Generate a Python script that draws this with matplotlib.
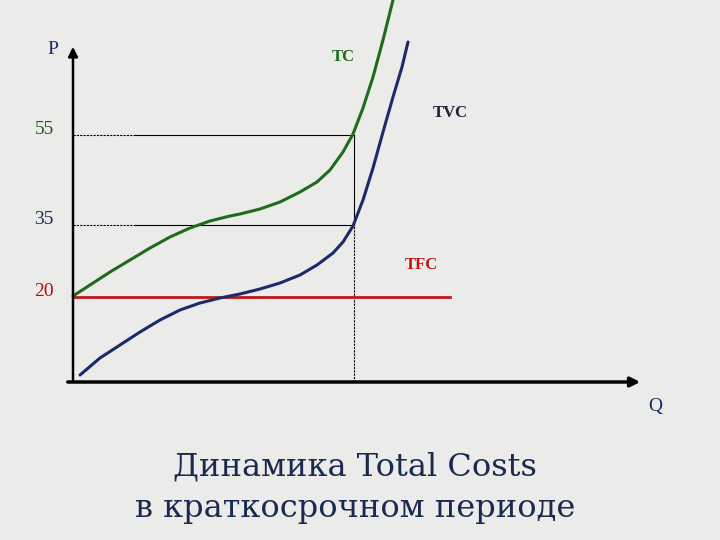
import matplotlib
matplotlib.use('Agg')
import matplotlib.pyplot as plt

# Schematic cost curves, Q = output, P = cost (chart units above the Q axis)
tc_q = [0, 17, 37, 57, 77, 97, 117, 137, 157, 167, 187, 207, 227, 244, 257, 270, 280, 290, 300, 310, 320]
tc_p = [86, 97, 110, 122, 134, 145, 154, 161, 166, 168, 173, 180, 190, 200, 212, 230, 248, 274, 305, 342, 382]

tvc_q = [7, 27, 47, 67, 87, 107, 127, 147, 167, 187, 207, 227, 244, 260, 270, 280, 290, 300, 310, 320, 329, 335]
tvc_p = [7, 24, 37, 50, 62, 72, 79, 84, 88, 93, 99, 107, 117, 129, 140, 156, 182, 214, 250, 285, 315, 340]

tfc_q = [0, 377]
tfc_p = [85, 85]

tick_levels = [85, 157, 247]
tick_labels = ['20', '35', '55']
tick_colors = ['#b01010', '#1c2a5c', '#1d5e1d']
q_mark = 281

bg = '#ebebea'
navy = '#1c2a6a'
green = '#1e6b1e'
red = '#c01818'

fig = plt.figure(figsize=(7.2, 5.4), dpi=100, facecolor=bg)
ax = fig.add_axes([0, 0, 1, 1])
ax.set_facecolor(bg)
ax.set_xlim(-73, 647)
ax.set_ylim(-158, 382)
ax.axis('off')

# axes with arrows
ax.annotate('', xy=(570, 0), xytext=(-8, 0),
            arrowprops=dict(arrowstyle='-|>', color='black', lw=2.5, mutation_scale=14))
ax.annotate('', xy=(0, 338), xytext=(0, -2),
            arrowprops=dict(arrowstyle='-|>', color='black', lw=1.8, mutation_scale=14))
ax.text(-20, 333, 'P', fontsize=14, color=navy, family='Liberation Serif', ha='center', va='center')
ax.text(582, -24, 'Q', fontsize=14, color=navy, family='Liberation Serif', ha='center', va='center')

# guide lines to the curves
for lvl in tick_levels[1:]:
    ax.plot([0, 62], [lvl, lvl], color='black', lw=0.8, ls=(0, (2, 1)))
    ax.plot([62, q_mark], [lvl, lvl], color='black', lw=0.8)
ax.plot([q_mark, q_mark], [157, 247], color='black', lw=0.8)
ax.plot([q_mark, q_mark], [0, 157], color='black', lw=0.8, ls=(0, (2, 1)))

for lvl, lab, col in zip(tick_levels, tick_labels, tick_colors):
    ax.text(-29, lvl + 5, lab, fontsize=14, color=col, family='Liberation Serif',
            ha='center', va='center')

# cost curves
ax.plot(tfc_q, tfc_p, color=red, lw=2)
ax.plot(tvc_q, tvc_p, color=navy, lw=2.2, solid_capstyle='round', solid_joinstyle='round')
ax.plot(tc_q, tc_p, color=green, lw=2.2, solid_capstyle='round', solid_joinstyle='round')

ax.text(270, 325, 'TC', fontsize=12, color=green, family='Liberation Serif', weight='bold', ha='center', va='center')
ax.text(377, 269, 'TVC', fontsize=12, color='#1a2040', family='Liberation Serif', weight='bold', ha='center', va='center')
ax.text(348, 117, 'TFC', fontsize=12, color=red, family='Liberation Serif', weight='bold', ha='center', va='center')

# title
fig.text(0.493, 0.135, 'Динамика Total Costs', fontsize=23, color='#1a2a4e',
         family='DejaVu Serif', ha='center', va='center')
fig.text(0.493, 0.058, 'в краткосрочном периоде', fontsize=23, color='#1a2a4e',
         family='DejaVu Serif', ha='center', va='center')

fig.savefig('out.png', dpi=100, facecolor=bg)
